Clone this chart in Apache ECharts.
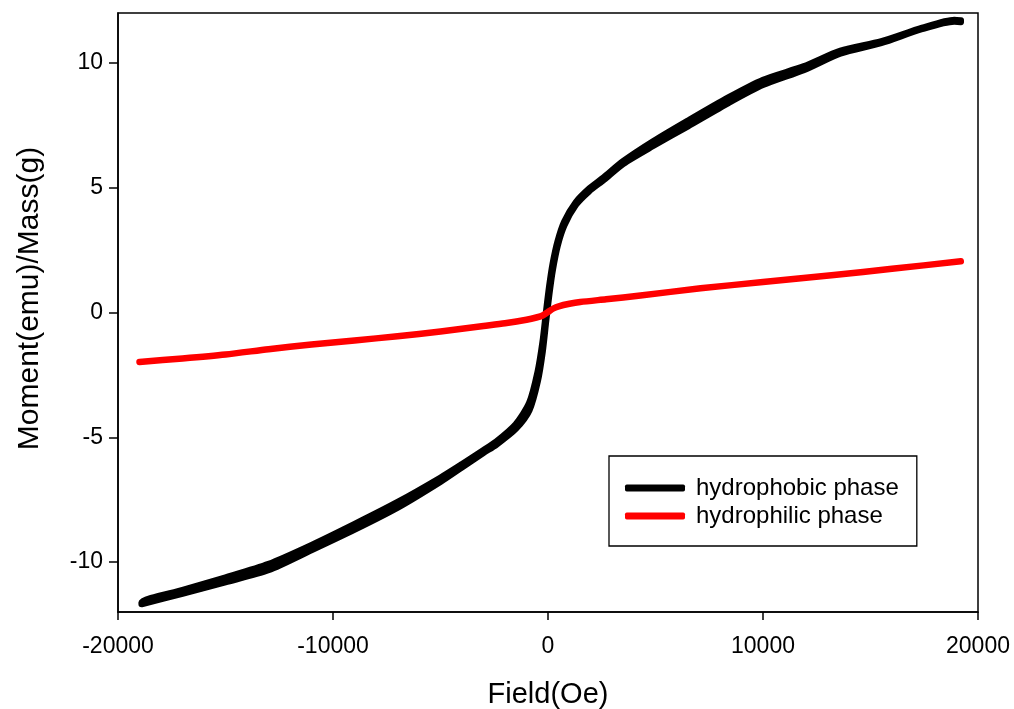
<!DOCTYPE html>
<html>
<head>
<meta charset="utf-8">
<script src="https://cdn.jsdelivr.net/npm/echarts@6/dist/echarts.min.js"></script>
<style>
  html, body { margin: 0; padding: 0; background: #fff; }
  #chart { width: 1014px; height: 709px; }
</style>
</head>
<body>
<div id="chart"></div>
<script>
// Magnetization loop, hydrophobic phase: field (Oe) and moment per mass (emu/g)
const fieldHydrophobic = [
  -18900, -17000, -15000, -13000, -11000, -9000, -7000, -5000, -4000, -3000,
  -2400, -1500, -870, -480, -250, -90, 60, 220, 450, 760, 1300, 1900, 2600,
  3500, 4900, 6500, 8400, 10000, 11900, 13600, 15500, 17400, 18900, 19200
];
// branch swept from +H down to -H
const momentHydrophobicDown = [
  -11.62, -11.12, -10.62, -10.08, -9.32, -8.48, -7.6, -6.62, -6.08, -5.52,
  -5.17, -4.48, -3.62, -2.38, -1.18, 0.0, 1.05, 1.95, 2.85, 3.64, 4.42, 4.95, 5.42,
  6.06, 6.86, 7.68, 8.62, 9.32, 9.86, 10.48, 10.86, 11.4, 11.72, 11.7
];
// branch swept from -H up to +H
const momentHydrophobicUp = [
  -11.68, -11.26, -10.8, -10.32, -9.52, -8.7, -7.82, -6.78, -6.2, -5.62,
  -5.29, -4.66, -3.92, -2.76, -1.56, -0.34, 0.75, 1.71, 2.69, 3.5, 4.32, 4.85, 5.32,
  5.96, 6.68, 7.46, 8.4, 9.12, 9.72, 10.38, 10.8, 11.36, 11.66, 11.64
];

// Hydrophilic phase
const fieldHydrophilic = [
  -19000, -17000, -15000, -13000, -11000, -9000, -7000, -5000, -3000, -2000,
  -1000, -500, -250, 0, 250, 500, 1000, 1500, 2700, 4300, 7100, 10000, 13300,
  16000, 19200
];
const momentHydrophilic = [
  -1.98, -1.84, -1.68, -1.47, -1.28, -1.12, -0.95, -0.76, -0.54, -0.43,
  -0.29, -0.19, -0.12, 0.02, 0.16, 0.25, 0.35, 0.42, 0.53, 0.68, 0.97, 1.22, 1.5,
  1.75, 2.05
];

const seriesNames = ['hydrophobic phase', 'hydrophilic phase'];
const xTicks = [-20000, -10000, 0, 10000, 20000];
const yTicks = [-10, -5, 0, 5, 10];

const pairs = (xs, ys) => xs.map((x, i) => [x, ys[i]]);

// Closed loop: down branch from high field to low, then up branch back
const loopDown = pairs(fieldHydrophobic, momentHydrophobicDown).reverse();
const loopUp = pairs(fieldHydrophobic, momentHydrophobicUp);

const FONT = '"Liberation Sans", Arial, Helvetica, sans-serif';

const chart = echarts.init(document.getElementById('chart'), null, { renderer: 'canvas' });

const lineStyleBase = { width: 6.5, cap: 'round', join: 'round' };

chart.setOption({
  animation: false,
  backgroundColor: '#ffffff',
  grid: {
    left: 118, right: 36, top: 13, bottom: 97,
    outerBoundsMode: 'none',
    show: true, borderColor: '#000', borderWidth: 1.5, backgroundColor: 'transparent'
  },
  xAxis: {
    type: 'value',
    min: xTicks[0], max: xTicks[xTicks.length - 1], interval: 10000,
    name: 'Field(Oe)', nameLocation: 'middle', nameGap: 68,
    nameTextStyle: { fontFamily: FONT, fontSize: 29, color: '#000' },
    axisLine: { show: true, onZero: false, lineStyle: { color: '#000', width: 1.5 } },
    axisTick: { show: true, length: 8, lineStyle: { color: '#000', width: 1.5 } },
    axisLabel: {
      fontFamily: FONT, fontSize: 23, color: '#000', margin: 23,
      formatter: v => String(v)
    },
    splitLine: { show: false }
  },
  yAxis: {
    type: 'value',
    min: -12, max: 12,
    name: 'Moment(emu)/Mass(g)', nameLocation: 'middle', nameGap: 73, nameRotate: 90,
    nameTextStyle: { fontFamily: FONT, fontSize: 30, color: '#000', padding: [0, 0, 0, 28] },
    axisLine: { show: true, onZero: false, lineStyle: { color: '#000', width: 1.5 } },
    axisTick: { show: true, length: 9, customValues: yTicks, lineStyle: { color: '#000', width: 1.5 } },
    axisLabel: {
      fontFamily: FONT, fontSize: 23, color: '#000', margin: 15,
      customValues: yTicks, formatter: v => String(v)
    },
    splitLine: { show: false }
  },
  legend: {
    orient: 'vertical',
    left: 609, top: 456,
    padding: [19, 18, 17, 16],
    itemGap: 2,
    itemWidth: 60, itemHeight: 7,
    icon: 'roundRect',
    borderColor: '#000', borderWidth: 1.3,
    backgroundColor: '#fff',
    data: seriesNames,
    textStyle: { fontFamily: FONT, fontSize: 24, color: '#000', padding: [0, 0, 0, 6], lineHeight: 26 }
  },
  series: [
    {
      name: seriesNames[0],
      type: 'line',
      data: loopDown.concat(loopUp),
      showSymbol: false, symbol: 'none',
      smooth: 0.25,
      color: '#000',
      lineStyle: Object.assign({ color: '#000' }, lineStyleBase),
      z: 2
    },
    {
      name: seriesNames[1],
      type: 'line',
      data: pairs(fieldHydrophilic, momentHydrophilic),
      showSymbol: false, symbol: 'none',
      smooth: 0.25,
      color: '#ff0000',
      lineStyle: Object.assign({ color: '#ff0000' }, lineStyleBase),
      z: 3
    }
  ]
});
</script>
</body>
</html>
